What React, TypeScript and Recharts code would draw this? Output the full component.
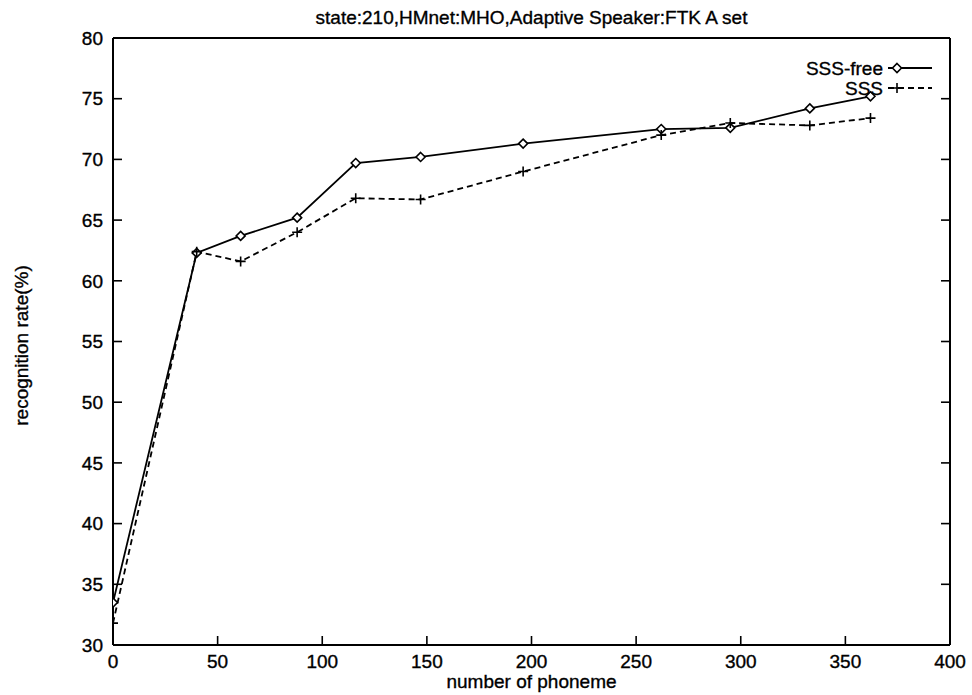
import React from 'react';
import { LineChart, Line, XAxis, YAxis, Legend } from 'recharts';

const phonemes = [0, 40, 61, 88, 116, 147, 196, 262, 295, 333, 362];
const sssFree = [33.5, 62.3, 63.7, 65.2, 69.7, 70.2, 71.3, 72.5, 72.6, 74.2, 75.2];
const sss = [31.8, 62.4, 61.6, 64.0, 66.8, 66.7, 69.0, 72.0, 73.0, 72.8, 73.4];
const xTicks = [0, 50, 100, 150, 200, 250, 300, 350, 400];
const yTicks = [30, 35, 40, 45, 50, 55, 60, 65, 70, 75, 80];
const seriesNames = ['SSS-free', 'SSS'];
const titleText = 'state:210,HMnet:MHO,Adaptive Speaker:FTK A set';
const xLabelText = 'number of phoneme';
const yLabelText = 'recognition rate(%)';

const data = phonemes.map((p, i) => ({ phoneme: p, sssFree: sssFree[i], sss: sss[i] }));

const FONT = '"Liberation Sans", Arial, Helvetica, sans-serif';
const FS = 19;
const TXT_STROKE = 0.35;

const Diamond = (props: any) => {
  const { cx, cy } = props;
  if (cx == null || cy == null) return <g />;
  const r = 4.5;
  return (
    <path
      d={`M${cx},${cy - r}L${cx + r},${cy}L${cx},${cy + r}L${cx - r},${cy}Z`}
      fill="#fff"
      stroke="#000"
      strokeWidth={1.6}
    />
  );
};

const Plus = (props: any) => {
  const { cx, cy } = props;
  if (cx == null || cy == null) return <g />;
  const r = 5;
  return (
    <path
      d={`M${cx - r},${cy}L${cx + r},${cy}M${cx},${cy - r}L${cx},${cy + r}`}
      fill="none"
      stroke="#000"
      strokeWidth={1.6}
    />
  );
};

const textProps = { fontFamily: FONT, fontSize: FS, fill: '#000', stroke: '#000', strokeWidth: TXT_STROKE };

const TitleLabel = (props: any) => {
  const vb = props.viewBox || {};
  return (
    <text x={vb.x + vb.width / 2} y={24} textAnchor="middle" {...textProps}>
      {titleText}
    </text>
  );
};

const XLabel = (props: any) => {
  const vb = props.viewBox || {};
  return (
    <text x={vb.x + vb.width / 2} y={vb.y + 43} textAnchor="middle" {...textProps}>
      {xLabelText}
    </text>
  );
};

const YLabel = (props: any) => {
  const vb = props.viewBox || {};
  const cx = vb.x + 28;
  const cy = vb.y + vb.height / 2 + 4;
  return (
    <text x={cx} y={cy} transform={`rotate(-90 ${cx} ${cy})`} textAnchor="middle" {...textProps}>
      {yLabelText}
    </text>
  );
};

const LegendBox = () => (
  <svg width={170} height={50} style={{ display: 'block' }}>
    <text x={103} y={25} textAnchor="end" {...textProps}>{seriesNames[0]}</text>
    <line x1={108} x2={152} y1={18} y2={18} stroke="#000" strokeWidth={1.8} />
    <Diamond cx={117} cy={18} />
    <text x={103} y={45} textAnchor="end" {...textProps}>{seriesNames[1]}</text>
    <line x1={108} x2={152} y1={38} y2={38} stroke="#000" strokeWidth={1.8} strokeDasharray="6 4" />
    <Plus cx={117} cy={38} />
  </svg>
);

const axisLine = { stroke: '#000', strokeWidth: 2 };
const tickLine = { stroke: '#000', strokeWidth: 1.6 };
const tickStyle = { fill: '#000', fontSize: FS, fontFamily: FONT, stroke: '#000', strokeWidth: TXT_STROKE };

export default function App() {
  return (
    <div style={{ position: 'absolute', left: 0, top: 0, width: 972, height: 695, background: '#fff' }}>
      <LineChart width={972} height={695} data={data} margin={{ top: 38, right: 22, bottom: 0, left: 0 }}>
        <XAxis
          xAxisId={0}
          dataKey="phoneme"
          type="number"
          domain={[0, 400]}
          ticks={xTicks}
          interval={0}
          allowDataOverflow
          height={50}
          tickSize={-9}
          tickMargin={19}
          axisLine={axisLine}
          tickLine={tickLine}
          tick={tickStyle}
          label={XLabel}
        />
        <XAxis
          xAxisId="top"
          orientation="top"
          mirror
          type="number"
          domain={[0, 400]}
          ticks={xTicks}
          interval={0}
          allowDataOverflow
          height={20}
          tickSize={9}
          tickFormatter={() => ''}
          axisLine={axisLine}
          tickLine={tickLine}
          label={TitleLabel}
        />
        <YAxis
          yAxisId={0}
          type="number"
          domain={[30, 80]}
          ticks={yTicks}
          interval={0}
          allowDataOverflow
          width={113}
          tickSize={-9}
          tickMargin={19}
          axisLine={axisLine}
          tickLine={tickLine}
          tick={tickStyle}
          label={YLabel}
        />
        <YAxis
          yAxisId="right"
          orientation="right"
          mirror
          type="number"
          domain={[30, 80]}
          ticks={yTicks}
          interval={0}
          allowDataOverflow
          width={20}
          tickSize={9}
          tickFormatter={() => ''}
          axisLine={axisLine}
          tickLine={tickLine}
        />
        <Legend
          layout="vertical"
          align="center"
          verticalAlign="middle"
          content={LegendBox}
          wrapperStyle={{ position: 'absolute', left: 780, top: 50, width: 170, height: 50 }}
        />
        <Line
          type="linear"
          dataKey="sssFree"
          name={seriesNames[0]}
          stroke="#000"
          strokeWidth={1.8}
          dot={<Diamond />}
          isAnimationActive={false}
        />
        <Line
          type="linear"
          dataKey="sss"
          name={seriesNames[1]}
          stroke="#000"
          strokeWidth={1.8}
          strokeDasharray="6 4"
          dot={<Plus />}
          isAnimationActive={false}
        />
      </LineChart>
    </div>
  );
}
